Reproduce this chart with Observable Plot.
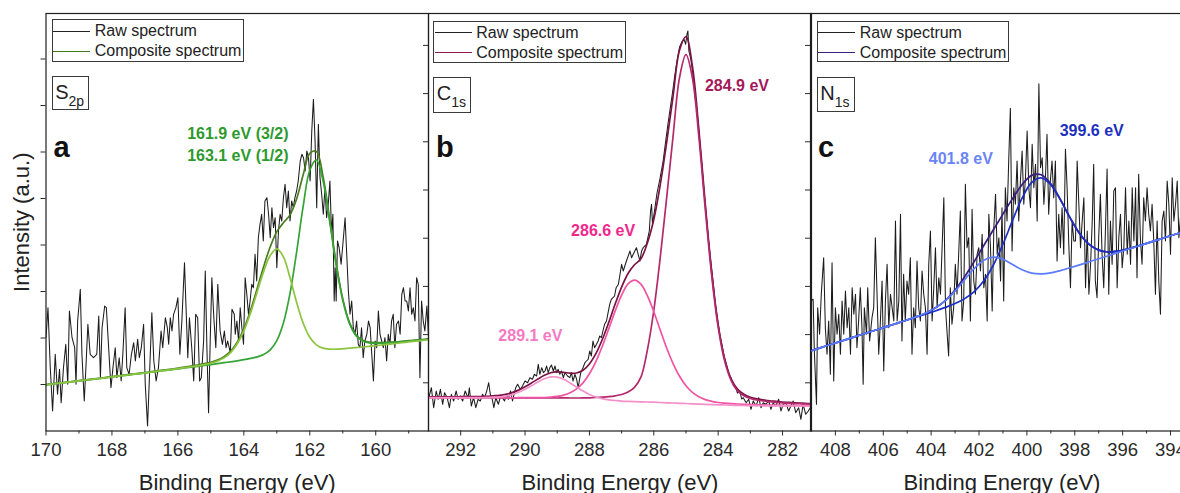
<!DOCTYPE html>
<html>
<head>
<meta charset="utf-8">
<script src="https://cdn.jsdelivr.net/npm/d3@7"></script>
<script src="https://cdn.jsdelivr.net/npm/@observablehq/plot@0.6"></script>
<style>
  html, body { margin: 0; padding: 0; background: #fff; }
  #chart { position: relative; width: 1180px; height: 493px; overflow: hidden; background: #fff;
           font-family: "Liberation Sans", Arial, Helvetica, sans-serif; }
  .pnl { position: absolute; top: 0; height: 493px; }
  .pnl svg { display: block; }
  .lg { position: absolute; box-sizing: border-box; border: 1px solid #3a3a3a; background: #fff; }
  .lg .ln { position: absolute; left: 0.6px; width: 37px; height: 0; border-top: 1.4px solid; }
  .lg .tx { position: absolute; left: 42px; font-size: 16px; line-height: 20px; color: #222; white-space: nowrap; }
  .el { position: absolute; box-sizing: border-box; border: 1px solid #3a3a3a; background: #fff; }
  .el .m { position: absolute; left: 2.5px; top: 5px; font-size: 20px; line-height: 20px; color: #222; white-space: nowrap; }
  .el .m span { font-size: 14px; vertical-align: -6.5px; }
</style>
</head>
<body>
<div id="chart"></div>
<script>
// ---------------- DATA ----------------
// Panel a: S 2p  [binding energy (eV), intensity (a.u.)]
const rawA = [
[170.00,93.3],[169.94,123.3],[169.87,63.3],[169.80,20],[169.72,76.7],[169.65,36.7],[169.59,61.7],[169.54,28.3],[169.47,63.3],[169.40,86.7],
[169.34,46.7],[169.29,120],[169.21,93.3],[169.13,83.3],[169.09,46.7],[169.04,110],[168.96,141.7],[168.91,76.7],[168.84,30],[168.79,63.3],
[168.73,106.7],[168.66,76.7],[168.56,73.3],[168.46,76.7],[168.40,115],[168.35,53.3],[168.30,103.3],[168.22,125],[168.17,123.3],[168.10,83.3],
[168.03,43.3],[167.97,63.3],[167.90,83.3],[167.85,53.3],[167.78,73.3],[167.72,50],[167.67,76.7],[167.60,123.3],[167.55,63.3],[167.48,56.7],
[167.41,76.7],[167.34,88.3],[167.29,70],[167.22,91.7],[167.17,73.3],[167.11,83.3],[167.04,106.7],[166.99,46.7],[166.92,5],[166.86,56.7],
[166.79,118.3],[166.73,70],[166.66,50],[166.59,63.3],[166.51,100],[166.46,83.3],[166.38,113.3],[166.32,103.3],[166.28,86.7],[166.23,113.3],
[166.18,100],[166.13,116.7],[166.06,123.3],[166.00,133.3],[165.94,76.7],[165.88,110],[165.80,168.3],[165.76,130],[165.70,73.3],[165.65,113.3],
[165.58,83.3],[165.52,50],[165.46,116.7],[165.40,113.3],[165.34,50],[165.29,53.3],[165.22,90],[165.17,160],[165.12,83.3],[165.07,18.3],
[165.02,90],[164.97,153.3],[164.91,113.3],[164.85,83.3],[164.79,146.7],[164.72,100],[164.65,86.7],[164.59,100],[164.54,83.3],[164.49,90],
[164.41,78.3],[164.36,121.7],[164.29,116.7],
[164.26,96.7],[164.21,110],[164.16,90],[164.11,123.3],[164.06,103.3],[164.01,86.7],[163.96,153.3],[163.91,136.7],[163.86,116.7],[163.81,130],
[163.76,146.7],[163.71,143.3],[163.66,176.7],[163.61,150],[163.56,193.3],[163.51,206.7],[163.46,216.7],[163.41,190],[163.36,230],[163.30,233.3],
[163.25,216.7],[163.20,193.3],[163.15,223.3],[163.10,203.3],[163.05,213.3],[163.00,163.3],[162.95,200],[162.90,216.7],[162.85,210],[162.80,233.3],
[162.75,246.7],[162.70,223.3],[162.65,240],[162.60,210],[162.55,230],[162.50,223.3],[162.45,233.3],[162.40,240],[162.35,250],[162.29,270],
[162.24,276.7],[162.19,273.3],[162.14,260],[162.09,280],[162.04,273.3],[161.99,250],[161.94,300],[161.89,331.7],[161.84,290],[161.79,223.3],
[161.74,306.7],[161.69,253.3],[161.64,236.7],[161.59,216.7],[161.54,243.3],[161.49,213.3],[161.44,226.7],[161.39,250],[161.34,196.7],[161.30,216.7],
[161.26,130],[161.23,163.3],[161.20,130],[161.16,190],[161.11,183.3],[161.05,166.7],[160.98,193.3],[160.93,213.3],[160.88,176.7],[160.83,140],
[160.78,116.7],[160.73,130],[160.68,103.3],[160.63,96.7],[160.58,110],[160.53,86.7],[160.48,83.3],[160.43,103.3],[160.38,73.3],[160.33,90],
[160.27,96.7],[160.22,110],[160.17,103.3],[160.12,76.7],[160.07,50],[160.02,90],[159.97,83.3],[159.92,120],[159.87,96.7],[159.82,90],
[159.77,83.3],[159.72,93.3],[159.67,70],[159.62,96.7],[159.57,86.7],[159.52,110],[159.47,116.7],[159.42,83.3],[159.37,106.7],[159.31,110],
[159.26,96.7],[159.21,136.7],[159.16,143.3],[159.11,130],[159.06,130],[159.01,120],[158.96,143.3],[158.91,116.7],[158.86,123.3],[158.81,110],
[158.76,153.3],[158.71,146.7],[158.66,53.3],[158.61,130],[158.56,110],[158.51,100],[158.45,125],[158.40,95]
];
// fitted curves: [eV, 163.1 eV (1/2), 161.9 eV (3/2), composite]
const fitA = [
[170.0,46.2,46.2,46.4],[169.8,47.0,47.0,47.2],[169.6,47.8,47.8,48.0],[169.4,48.5,48.5,48.7],[169.2,49.3,49.3,49.5],
[169.0,50.2,50.1,50.4],[168.8,51.0,50.9,51.2],[168.6,51.7,51.6,51.9],[168.4,52.5,52.4,52.7],[168.2,53.3,53.2,53.5],
[168.0,54.1,54.1,54.4],[167.8,54.9,54.8,55.2],[167.6,55.7,55.6,56.0],[167.4,56.5,56.4,56.8],[167.2,57.3,57.2,57.6],
[167.0,58.1,58.0,58.5],[166.8,58.9,58.8,59.3],[166.6,59.8,59.6,60.2],[166.4,60.6,60.5,61.1],[166.2,61.4,61.2,61.9],
[166.0,62.4,62.1,63.0],[165.8,63.3,63.0,64.0],[165.6,64.3,63.8,65.0],[165.4,65.2,64.6,66.0],[165.2,66.4,65.5,67.3],
[165.0,67.8,66.4,68.8],[164.8,69.9,67.3,71.0],[164.6,73.1,68.3,74.4],[164.4,78.4,69.2,79.9],[164.2,87.2,70.2,88.9],
[164.0,100.2,71.3,102.2],[163.8,117.8,72.6,120.3],[163.6,138.6,74.1,141.9],[163.4,159.4,76.5,164.3],[163.2,175.5,81.1,184.2],
[163.0,182.2,90.4,199.4],[162.8,174.1,108.0,208.2],[162.6,153.2,137.6,216.1],[162.4,128.7,178.9,232.1],[162.2,107.8,224.8,256.3],
[162.0,93.8,260.8,277.6],[161.8,86.2,271.1,279.5],[161.6,82.9,250.5,254.8],[161.4,81.9,210.1,212.6],[161.2,81.8,166.2,167.9],
[161.0,82.2,130.8,132.1],[160.8,82.8,107.8,108.9],[160.6,83.4,95.4,96.3],[160.4,84.0,90.0,90.8],[160.2,84.7,88.1,88.8],
[160.0,85.4,87.7,88.3],[159.8,86.1,87.9,88.4],[159.6,86.9,88.3,88.8],[159.4,87.5,88.7,89.1],[159.2,88.3,89.3,89.7],
[159.0,89.1,89.9,90.3],[158.8,89.8,90.6,90.9],[158.6,90.5,91.1,91.4],[158.4,91.3,91.8,92.1]
];
const notesA = [["161.9 eV (3/2)", 165.72, 292.2], ["163.1 eV (1/2)", 165.72, 270.5]];
const majorsA = [170, 168, 166, 164, 162, 160];
const minorsA = [169, 167, 165, 163, 161, 159];

// Panel b: C 1s
const rawB = [
[292.99,33.3],[292.91,43.3],[292.84,23.3],[292.76,40],[292.70,31.7],[292.63,41.7],[292.56,26.7],[292.50,38.3],[292.42,33.3],[292.35,23.3],
[292.29,36.7],[292.22,30],[292.14,40],[292.08,31.7],[292.01,35],[291.94,30],[291.86,40],[291.77,33.3],[291.73,43.3],[291.67,25],
[291.60,33.3],[291.53,23.3],[291.46,31.7],[291.39,30],[291.32,36.7],[291.26,33.3],[291.19,40],[291.13,48.3],[291.08,36.7],[291.03,33.3],
[290.97,23.3],[290.91,33.3],[290.83,26.7],[290.76,35],[290.70,33.3],[290.64,30],[290.57,36.7],[290.52,31.7],[290.45,40],[290.39,30],
[290.33,38.3],[290.29,43.3],[290.23,46.7],[290.15,41.7],[290.08,45],[290.00,50],[289.92,48.3],[289.85,53.3],[289.77,51.7],[289.71,56.7],
[289.64,55],[289.59,66.7],[289.54,56.7],[289.48,63.3],[289.43,58.3],[289.38,60],[289.33,65],[289.28,58.3],[289.23,63.3],[289.18,66],
[289.12,60],[289.07,65],[289.02,58.3],[288.97,61.7],[288.92,56.7],[288.87,60],[288.81,53.3],[288.76,58.3],[288.68,55],[288.61,53.3],
[288.56,58.3],[288.51,50],[288.45,56.7],[288.40,52],[288.35,43.3],[288.27,58.3],[288.20,63.3],[288.14,68.3],[288.09,70],[288.04,71.7],
[287.99,80],[287.94,75],[287.89,90],[287.84,83.3],[287.78,86.7],[287.73,90],[287.68,95],[287.63,93.3],[287.58,100],[287.53,106.7],
[287.47,110],[287.42,118.3],[287.37,126.7],[287.32,131.7],[287.27,133.3],[287.22,135],[287.17,143.3],
[287.10,146.7],[287.05,156.7],[287.00,166.7],[286.95,160],[286.85,170],[286.74,180],[286.69,173.3],[286.64,176.7],[286.54,183.3],[286.43,170],
[286.38,180],[286.33,183.3],[286.23,186.7],[286.14,200],[286.10,220],[286.07,226.7],[286.04,206.7],[285.97,222],[285.90,238],[285.81,252],
[285.71,270],[285.63,290],[285.56,307],[285.48,325],[285.42,338],[285.35,355],[285.28,370],[285.20,384],[285.11,390],[285.06,391.7],
[285.01,386.7],[284.97,396.7],[284.94,400],[284.91,380],[284.85,372],[284.79,358],[284.72,335],[284.65,318],[284.58,292],[284.51,268],
[284.44,240],[284.37,216],[284.30,191],[284.23,170],[284.16,150],[284.09,128],[284.02,112],[283.95,97],[283.88,86],[283.81,74],
[283.74,66],[283.67,57],[283.60,53],[283.53,46],[283.46,44],[283.40,38],[283.33,40],[283.27,32],[283.22,33.3],[283.13,28.3],
[283.05,31.7],[282.98,21.7],[282.91,30],[282.82,25],[282.74,33.3],[282.67,23.3],[282.60,28.3],[282.52,26.7],[282.43,30],[282.36,21.7],
[282.29,28.3],[282.21,25],[282.12,31.7],[282.05,20],[281.98,26.7],[281.90,28.3],[281.81,20],[281.74,25],[281.67,30],[281.59,18.3],
[281.50,23.3],[281.43,11.7],[281.36,26.7],[281.28,16.7],[281.20,20],[281.14,23.3]
];
// fitted curves: [eV, 289.1 eV, 286.6 eV, 284.9 eV, composite]
const fitB = [
[293.0,33.2,33.4,33.5,34.1],[292.8,33.2,33.4,33.5,34.1],[292.6,33.1,33.4,33.4,34.1],[292.4,33.1,33.3,33.4,34.1],
[292.2,33.1,33.3,33.4,34.2],[292.0,33.1,33.3,33.4,34.3],[291.8,33.1,33.3,33.4,34.3],[291.6,33.1,33.3,33.3,34.4],
[291.4,33.2,33.3,33.3,34.5],[291.2,33.3,33.3,33.3,34.7],[291.0,33.6,33.3,33.3,35.2],[290.8,34.0,33.3,33.3,35.7],
[290.6,34.9,33.2,33.2,36.7],[290.4,36.4,33.2,33.2,38.4],[290.2,38.7,33.3,33.2,40.9],[290.0,41.7,33.3,33.2,44.2],
[289.8,45.2,33.3,33.1,48.0],[289.6,49.0,33.3,33.1,52.0],[289.4,52.2,33.5,33.0,55.7],[289.2,54.1,33.9,33.1,58.3],
[289.0,53.9,34.6,33.0,59.1],[288.8,51.7,35.9,33.1,58.7],[288.6,48.0,38.2,33.0,57.8],[288.4,43.9,42.1,33.0,58.0],
[288.2,39.9,48.1,33.1,60.7],[288.0,36.6,57.2,33.2,67.0],[287.8,34.0,69.4,33.5,77.3],[287.6,32.3,84.7,33.9,91.5],
[287.4,31.1,102.1,34.4,108.6],[287.2,30.5,120.1,35.2,127.0],[287.0,29.9,135.9,36.5,143.9],[286.8,29.6,147.1,39.0,157.5],
[286.6,29.4,150.9,43.7,166.2],[286.4,29.2,146.8,53.8,172.2],[286.2,29.0,135.3,80.9,188.0],[286.0,28.8,119.2,120.5,211.5],
[285.8,28.5,100.9,173.3,246.1],[285.6,28.2,83.0,233.4,288.6],[285.4,28.0,67.4,295.1,334.9],[285.2,27.7,54.7,353.5,380.9],
[285.0,27.5,45.2,376.3,394.4],[284.8,27.2,38.6,353.0,364.8],[284.6,26.9,34.3,294.1,301.7],[284.4,26.7,31.4,221.9,227.0],
[284.2,26.4,29.7,155.1,158.6],[284.0,26.1,28.5,103.8,106.4],[283.8,26.0,27.8,70.1,72.3],[283.6,25.8,27.3,50.7,52.4],
[283.4,25.6,27.0,40.3,41.9],[283.2,25.5,26.7,35.3,36.7],[283.0,25.3,26.4,32.5,33.8],[282.8,25.3,26.2,31.0,32.1],
[282.6,25.2,26.1,30.0,31.1],[282.4,25.2,25.9,29.3,30.2],[282.2,25.1,25.8,28.7,29.6],[282.0,25.1,25.7,28.2,29.0],
[281.8,25.0,25.6,27.9,28.6],[281.6,25.0,25.5,27.4,28.1],[281.4,25.0,25.4,27.2,27.8],[281.2,24.9,25.4,26.9,27.5],
[281.0,24.9,25.3,26.6,27.2]
];
const notesB = [["284.9 eV", 284.41, 340.5], ["286.6 eV", 288.57, 195.5], ["289.1 eV", 290.83, 90.5]];
const majorsB = [292, 290, 288, 286, 284, 282];
const minorsB = [291, 289, 287, 285, 283];

// Panel c: N 1s
const rawC = [
[409.04,130],[408.93,131.7],[408.88,80],[408.79,26.7],[408.74,123.3],[408.66,96.7],[408.59,136.7],[408.49,173.3],[408.42,103.3],[408.35,76.7],
[408.28,110],[408.21,56.7],[408.14,168.3],[408.07,50],[408.00,123.3],[407.93,96.7],[407.86,116.7],[407.79,76.7],[407.72,130],[407.65,96.7],
[407.58,140],[407.51,103.3],[407.44,123.3],[407.37,76.7],[407.30,143.3],[407.23,116.7],[407.16,136.7],[407.10,83.3],[407.03,110],[406.96,143.3],
[406.89,103.3],[406.84,46.7],[406.79,123.3],[406.70,96.7],[406.65,143.3],[406.57,90],[406.47,113.3],[406.40,123.3],[406.33,193.3],[406.26,136.7],
[406.19,76.7],[406.12,110],[406.05,150],[405.98,60],[405.91,130],[405.84,166.7],[405.77,103.3],[405.70,136.7],[405.63,123.3],[405.56,110],
[405.49,210],[405.42,110],[405.35,130],[405.28,216.7],[405.22,90],[405.15,156.7],[405.08,110],[405.01,150],[404.94,136.7],[404.87,173.3],
[404.80,76.7],[404.73,123.3],[404.66,103.3],[404.59,170],[404.52,123.3],[404.45,110],[404.38,160],[404.31,136.7],[404.24,123.3],[404.17,76.7],
[404.10,166.7],[404.03,200],[403.96,110],[403.89,143.3],[403.82,183.3],[403.75,123.3],[403.68,153.3],[403.61,136.7],[403.47,233.3],[403.40,123.3],
[403.33,96.7],[403.27,75],[403.20,143.3],[403.13,106.7],[403.06,123.3],[402.99,166.7],[402.92,136.7],[402.85,176.7],[402.78,220],[402.71,110],
[402.64,130],[402.57,246.7],[402.50,183.3],[402.43,193.3],[402.36,110],[402.29,221.7],[402.22,150],[402.15,136.7],[402.08,176.7],[402.01,183.3],
[401.94,160],[401.87,196.7],[401.80,143.3],[401.73,156.7],[401.66,110],[401.59,216.7],
[401.52,183.3],[401.45,120],[401.38,203.3],[401.31,236.7],[401.24,176.7],[401.17,193.3],[401.10,150],[401.04,223.3],[400.97,130],[400.90,243.3],
[400.83,210],[400.76,270],[400.69,322.7],[400.62,180],[400.55,243.3],[400.48,226.7],[400.41,270],[400.34,210],[400.27,250],[400.20,280],
[400.13,226.7],[400.06,253.3],[399.99,300],[399.92,243.3],[399.85,223.3],[399.78,286.7],[399.71,243.3],[399.64,266.7],[399.57,210],[399.50,347.3],
[399.43,263.3],[399.36,273.3],[399.29,226.7],[399.22,256.7],[399.16,296.7],[399.09,216.7],[399.02,250],[398.95,270],[398.88,233.3],[398.81,270],
[398.74,170],[398.67,216.7],[398.60,183.3],[398.53,223.3],[398.46,176.7],[398.39,281.7],[398.32,243.3],[398.25,186.7],[398.18,143.3],[398.11,210],
[398.04,190],[397.97,190],[397.90,270],[397.83,226.7],[397.76,183.3],[397.69,210],[397.62,233.3],[397.55,143.3],[397.48,200],[397.41,136.7],
[397.34,166.7],[397.27,210],[397.21,266.7],[397.14,150],[397.07,133.3],[397.00,193.3],[396.93,236.7],[396.86,176.7],[396.79,143.3],[396.72,200],
[396.65,262],[396.58,136.7],[396.51,210],[396.44,166.7],[396.37,240],[396.30,243.3],[396.23,143.3],[396.16,193.3],[396.09,216.7],[396.02,163.3],
[395.95,183.3],[395.88,243.3],[395.81,176.7],[395.74,210],[395.67,166.7],[395.60,243.3],[395.53,190],[395.46,243.3],[395.40,153.3],[395.33,256.7],
[395.26,193.3],[395.19,166.7],[395.12,233.3],[395.05,210],[394.98,243.3],[394.91,216.7],[394.84,200],[394.77,226.7],[394.70,190],[394.63,136.7],
[394.56,210],[394.49,150],[394.42,116.7],[394.35,210],[394.28,220],[394.21,190],[394.14,250],[394.07,226.7],[394.00,176.7],[393.93,253.3],
[393.86,210],[393.79,226.7],[393.72,250],[393.65,193.3],[393.58,215],[393.50,180]
];
// fitted curves: [eV, 401.8 eV (incl. background), 399.6 eV, composite]
const fitC = [
[409.0,80.3,80.3,80.3],[408.6,83.4,83.4,83.4],[408.2,86.5,86.5,86.5],[407.8,89.5,89.5,89.5],[407.4,92.6,92.6,92.6],
[407.0,95.7,95.7,95.7],[406.6,98.7,98.7,98.7],[406.2,101.8,101.8,101.8],[405.8,104.9,104.9,104.9],[405.4,107.9,107.9,107.9],
[405.0,111.1,111.0,111.1],[404.6,114.4,114.0,114.4],[404.2,118.3,117.1,118.3],[403.8,123.4,120.3,123.5],[403.4,130.3,123.6,130.7],
[403.0,139.8,127.4,140.9],[402.6,151.2,132.4,154.2],[402.2,162.5,139.4,169.5],[401.8,170.8,150.2,185.5],[401.4,173.9,166.0,201.3],
[401.0,171.7,186.8,216.9],[400.6,166.5,210.6,232.4],[400.2,161.2,232.9,246.4],[399.8,157.9,248.5,255.6],[399.4,157.1,253.1,256.3],
[399.0,158.1,246.1,247.3],[398.6,160.4,231.1,231.5],[398.2,163.2,213.3,213.4],[397.8,166.1,197.5,197.5],[397.4,169.2,186.6,186.6],
[397.0,172.3,180.9,180.9],[396.6,175.3,179.0,179.0],[396.2,178.4,179.8,179.8],[395.8,181.5,182.0,182.0],[395.4,184.5,184.7,184.7],
[395.0,187.6,187.6,187.6],[394.6,190.6,190.6,190.6],[394.2,193.7,193.7,193.7],[393.8,196.8,196.8,196.8],[393.4,199.8,199.8,199.8]
];
const notesC = [["399.6 eV", 398.63, 295.5], ["401.8 eV", 404.10, 267.2]];
const majorsC = [408, 406, 404, 402, 400, 398, 396, 394];
const minorsC = [407, 405, 403, 401, 399, 397, 395, 393];

const yTicksA = [46.5, 93, 139.5, 186, 232.5, 279, 325.5, 372];
const yTicksBC = [48.2, 96.4, 144.6, 192.8, 241, 289.2, 337.4, 385.6];

// ---------------- DRAWING ----------------
const FONT = '"Liberation Sans", Arial, Helvetica, sans-serif';
const chart = document.getElementById("chart");

function drawPanel(cfg) {
  const marks = [];
  marks.push(Plot.line(cfg.raw, {x: d => d[0], y: d => d[1], stroke: "#1c1c1c", strokeWidth: 1.05, clip: true}));
  cfg.curves.forEach(c => {
    marks.push(Plot.line(cfg.fit, {x: d => d[0], y: d => d[c.col], stroke: c.color, strokeWidth: 1.7, curve: "catmull-rom", clip: true}));
  });
  marks.push(Plot.frame({stroke: "#1e1e1e", strokeWidth: 1.2}));
  marks.push(Plot.axisX(cfg.majors, {tickSize: 5, tickPadding: 7, fontSize: 18.5, tickFormat: d => String(d), label: null}));
  marks.push(Plot.axisX(cfg.minors, {tickSize: 3, tickFormat: () => "", label: null}));
  marks.push(Plot.axisY(cfg.yTicks, {tickSize: 5, tickFormat: () => "", label: null}));
  cfg.notes.forEach((n, i) => {
    marks.push(Plot.text([n], {x: d => d[1], y: d => d[2], text: d => d[0], fill: cfg.noteColors[i],
      fontSize: 16, fontWeight: "bold", textAnchor: "start", lineAnchor: "bottom"}));
  });
  marks.push(Plot.text([cfg.letter], {text: d => d, frameAnchor: "top-left", dx: 7.5, dy: 143.7,
    lineAnchor: "bottom", textAnchor: "start", fontSize: 29, fontWeight: "bold", fill: "#111"}));
  marks.push(Plot.text(["Binding Energy (eV)"], {text: d => d, frameAnchor: "bottom", dy: 58.5,
    lineAnchor: "bottom", textAnchor: "middle", fontSize: 22, fill: "#222"}));
  if (cfg.ylabel) {
    marks.push(Plot.text([cfg.ylabel], {text: d => d, frameAnchor: "left", dx: -17.5, rotate: -90,
      lineAnchor: "bottom", textAnchor: "middle", fontSize: 22, fill: "#222"}));
  }
  const svg = Plot.plot({
    width: cfg.width, height: 493,
    marginLeft: cfg.marginLeft, marginRight: cfg.marginRight, marginTop: 13, marginBottom: 62.5,
    x: {domain: cfg.domain, axis: null},
    y: {domain: [0, 417.5], axis: null},
    style: {background: "transparent", overflow: "visible", fontFamily: FONT, color: "#2a2a2a", maxWidth: "none"},
    marks
  });
  const div = document.createElement("div");
  div.className = "pnl";
  div.style.left = cfg.left + "px";
  div.style.width = cfg.width + "px";
  div.appendChild(svg);
  chart.appendChild(div);
}

drawPanel({left: 0, width: 430, marginLeft: 45.5, marginRight: 2, domain: [170, 158.4],
  raw: rawA, fit: fitA, majors: majorsA, minors: minorsA, yTicks: yTicksA,
  curves: [{col: 3, color: "#4a7d22"}, {col: 2, color: "#36a336"}, {col: 1, color: "#8cc43f"}],
  notes: notesA, noteColors: ["#2e9a2e", "#2e9a2e"], letter: "a", ylabel: "Intensity (a.u.)"});

drawPanel({left: 400, width: 412, marginLeft: 28, marginRight: 1, domain: [293, 281.1],
  raw: rawB, fit: fitB, majors: majorsB, minors: minorsB, yTicks: yTicksBC,
  curves: [{col: 4, color: "#7a1444"}, {col: 3, color: "#b4286c"}, {col: 2, color: "#ef55a2"}, {col: 1, color: "#f58fca"}],
  notes: notesB, noteColors: ["#a3195b", "#f0288c", "#f57ac3"], letter: "b"});

drawPanel({left: 790, width: 405, marginLeft: 20, marginRight: 2, domain: [409.04, 393.04],
  raw: rawC, fit: fitC, majors: majorsC, minors: minorsC, yTicks: yTicksBC,
  curves: [{col: 3, color: "#3b1d80"}, {col: 2, color: "#1b2fc4"}, {col: 1, color: "#5b7cff"}],
  notes: notesC, noteColors: ["#1c2fbf", "#6b84f8"], letter: "c"});

// ---------------- legends & element labels ----------------
function legend(left, top, w, h, compColor) {
  const d = document.createElement("div");
  d.className = "lg";
  Object.assign(d.style, {left: left + "px", top: top + "px", width: w + "px", height: h + "px"});
  d.innerHTML =
    '<div class="ln" style="top:10.3px;border-color:#222"></div>' +
    '<div class="tx" style="top:0.9px">Raw spectrum</div>' +
    '<div class="ln" style="top:30.3px;border-color:' + compColor + '"></div>' +
    '<div class="tx" style="top:20.9px">Composite spectrum</div>';
  chart.appendChild(d);
}
legend(51.7, 19.3, 192.6, 43, "#3d7d1d");
legend(433.3, 20.7, 192.4, 42, "#8a1a4e");
legend(816.7, 20.7, 192.3, 41.6, "#3b1b7b");

function element(left, top, w, h, main, sub) {
  const d = document.createElement("div");
  d.className = "el";
  Object.assign(d.style, {left: left + "px", top: top + "px", width: w + "px", height: h + "px"});
  d.innerHTML = '<div class="m">' + main + '<span>' + sub + '</span></div>';
  chart.appendChild(d);
}
element(51.7, 76, 37.3, 34, "S", "2p");
element(433.3, 77.3, 37.4, 35.4, "C", "1s");
element(816.7, 77.3, 38.3, 35, "N", "1s");
</script>
</body>
</html>
